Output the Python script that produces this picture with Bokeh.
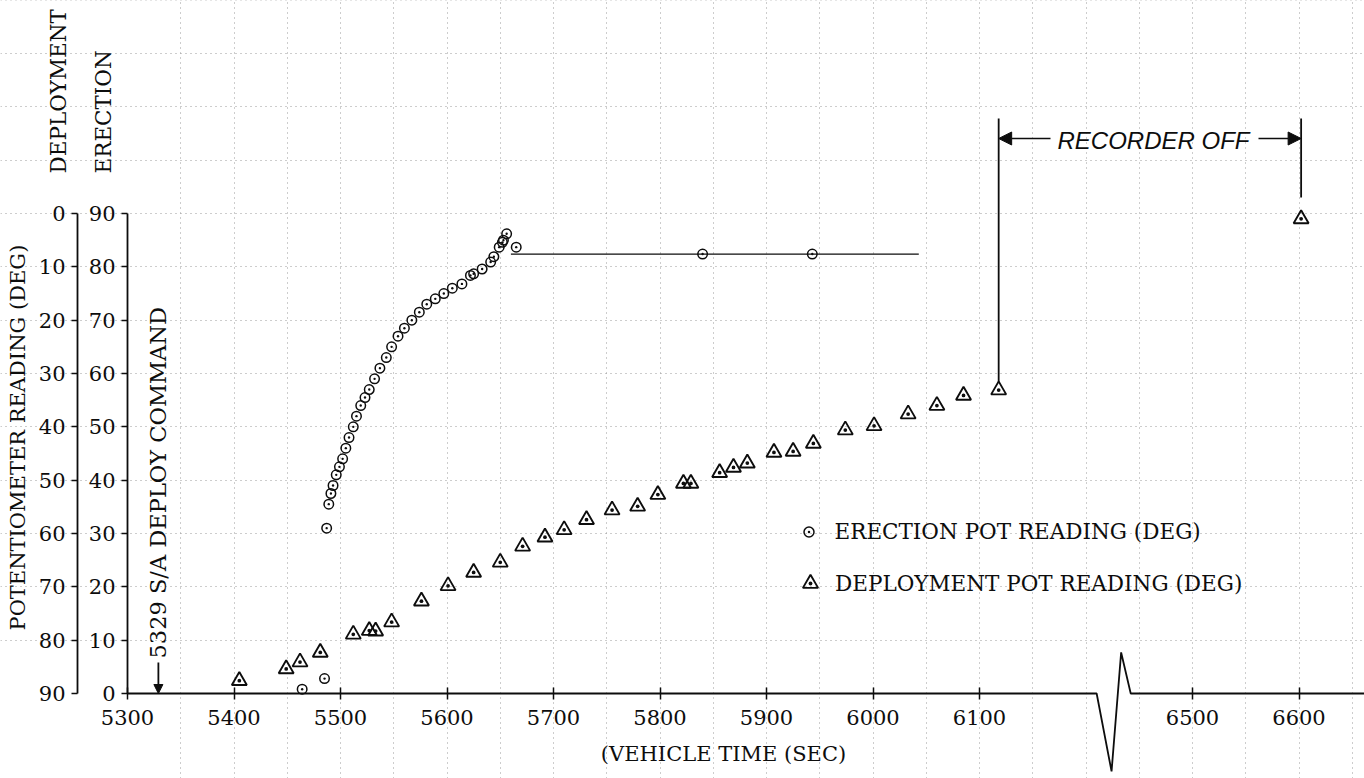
import math
from bokeh.plotting import figure
from bokeh.models import (Range1d, LinearAxis, FixedTicker, Label, Arrow, NormalHead,
                          Grid, Legend, LegendItem)
from bokeh.embed import file_html
from bokeh.resources import INLINE

# ---------------- data ----------------
erection_time = [5464, 5485, 5487, 5489, 5491, 5493, 5496, 5499, 5502, 5505, 5508, 5512,
                 5515, 5519, 5523, 5527, 5532, 5537, 5543, 5548, 5554, 5560, 5567, 5574,
                 5581, 5589, 5597, 5605, 5614, 5622, 5625, 5633, 5641, 5644, 5649, 5652,
                 5653, 5656, 5665, 5840, 5943]
erection_deg = [0.8, 2.8, 31.0, 35.5, 37.5, 39.0, 41.0, 42.5, 44.0, 46.0, 48.0, 50.0,
                52.0, 54.0, 55.5, 57.0, 59.0, 61.0, 63.0, 65.0, 67.0, 68.5, 70.0, 71.5,
                73.0, 74.0, 75.0, 76.0, 76.8, 78.4, 78.7, 79.6, 80.9, 81.9, 83.7, 84.6,
                85.0, 86.2, 83.7, 82.4, 82.4]

deploy_time = [5405, 5449, 5462, 5481, 5512, 5527, 5533, 5548, 5576, 5601, 5625, 5650,
               5671, 5692, 5710, 5731, 5755, 5779, 5798, 5822, 5829, 5856, 5869, 5882,
               5907, 5925, 5944, 5974, 6001, 6033, 6060, 6085, 6118, 6602]
deploy_deg = [87.6, 85.4, 84.1, 82.3, 78.9, 78.2, 78.3, 76.6, 72.7, 69.8, 67.3, 65.4,
              62.4, 60.7, 59.3, 57.4, 55.6, 54.9, 52.7, 50.6, 50.6, 48.6, 47.6, 46.8,
              44.8, 44.6, 43.1, 40.6, 39.8, 37.6, 36.0, 34.1, 33.1, 1.0]

erection_hold_deg = 82.4            # level of the held erection reading
erection_hold_span = [5660, 6043]   # extent of the drawn hold line

x_tick_values = [5300, 5400, 5500, 5600, 5700, 5800, 5900, 6000, 6100, 6500, 6600]
x_tick_labels = ["5300", "5400", "5500", "5600", "5700", "5800", "5900", "6000",
                 "6100", "6500", "6600"]
erection_ticks = [0, 10, 20, 30, 40, 50, 60, 70, 80, 90]
deploy_ticks = [0, 10, 20, 30, 40, 50, 60, 70, 80, 90]
command_time = 5329

# ---------------- layout helpers ----------------
W, H = 1364, 778
X0, SX = 127.0, 1.065     # pixel of 5300 s, pixels per second
Y0, SY = 693.0, 5.333     # pixel of 0 deg (erection), pixels per degree
BREAK_START, BREAK_GAP = 6200, 200   # axis break: later times drawn 200 s to the left


def tx(t):
    return t if t < BREAK_START else t - BREAK_GAP


def xd(px):
    return 5300 + (px - X0) / SX


def yd(py):
    return (Y0 - py) / SY


FONT = "DejaVu Serif"
INK = "#0d0d0d"
GRID = "#9a9a9a"

p = figure(width=W, height=H, output_backend="svg", toolbar_location=None,
           x_range=Range1d(xd(0), xd(W)), y_range=Range1d(yd(H), yd(0)),
           x_axis_type=None, y_axis_type=None, min_border=0,
           outline_line_color=None, background_fill_color="white",
           border_fill_color="white")
p.extra_y_ranges = {"deploy": Range1d(90 - yd(H), 90 - yd(0))}

# graph-paper grid
p.add_layout(Grid(dimension=0, ticker=FixedTicker(ticks=list(range(5350, 6451, 50))),
                  grid_line_color=GRID, grid_line_dash="1 4", grid_line_width=1,
                  bounds=(yd(H), yd(0))), "center")
p.add_layout(Grid(dimension=1, ticker=FixedTicker(ticks=list(range(10, 131, 10))),
                  grid_line_color=GRID, grid_line_dash="1 4", grid_line_width=1,
                  bounds=(5300, xd(W))), "center")

# axes
ax_e = LinearAxis(fixed_location=5300, ticker=FixedTicker(ticks=erection_ticks),
                  bounds=(0, 90))
ax_d = LinearAxis(fixed_location=xd(77), y_range_name="deploy",
                  ticker=FixedTicker(ticks=deploy_ticks), bounds=(0, 90))
for ax in (ax_e, ax_d):
    ax.major_tick_out = 6
    ax.major_tick_in = 0
    ax.minor_tick_out = 0
    ax.minor_tick_in = 0
    ax.major_label_standoff = 6
    ax.axis_line_width = 1.8
    ax.axis_line_color = INK
    ax.major_tick_line_color = INK
    ax.major_tick_line_width = 1.5
    ax.major_label_text_font = FONT
    ax.major_label_text_font_size = "21px"
    ax.major_label_text_color = INK
    p.add_layout(ax, "left")

ax_x = LinearAxis(fixed_location=0,
                  ticker=FixedTicker(ticks=[tx(v) for v in x_tick_values]),
                  major_label_overrides={tx(v): s for v, s in zip(x_tick_values, x_tick_labels)})
ax_x.axis_line_color = None
ax_x.major_tick_in = 6
ax_x.major_tick_out = 6
ax_x.minor_tick_out = 0
ax_x.minor_tick_in = 0
ax_x.major_tick_line_color = INK
ax_x.major_tick_line_width = 1.5
ax_x.major_label_standoff = 10
ax_x.major_label_text_font = FONT
ax_x.major_label_text_font_size = "21px"
ax_x.major_label_text_color = INK
p.add_layout(ax_x, "below")

# x-axis line with the break symbol
brk_x = [6210, 6224, 6233, 6242]
brk_y = [0, -14.6, 7.7, 0]
p.line([5300] + brk_x + [xd(W)], [0] + brk_y + [0], line_color=INK, line_width=1.8)

# held erection reading line
p.line(erection_hold_span, [erection_hold_deg, erection_hold_deg],
       line_color=INK, line_width=1.3)

# data
r_e = p.scatter([tx(t) for t in erection_time], erection_deg, marker="circle_dot",
                size=9.5, line_color=INK, line_width=1.5, fill_color=None)
r_d = p.scatter([tx(t) for t in deploy_time], deploy_deg, y_range_name="deploy",
                marker="triangle_dot", size=15, line_color=INK, line_width=1.9,
                fill_color=None)

# recorder-off markers
t_off, t_on = tx(deploy_time[-2]), tx(deploy_time[-1])
e_off = 90 - deploy_deg[-2]
e_on = 90 - deploy_deg[-1]
top_e = yd(118)
p.line([t_off, t_off], [e_off + 1.6, top_e], line_color=INK, line_width=1.8)
p.line([t_on, t_on], [e_on + 4, top_e], line_color=INK, line_width=1.8)
arrow_e = yd(138)
p.add_layout(Arrow(end=NormalHead(size=13, fill_color=INK, line_color=INK),
                   x_start=xd(1050), y_start=arrow_e, x_end=t_off, y_end=arrow_e,
                   line_color=INK, line_width=1.5))
p.add_layout(Arrow(end=NormalHead(size=13, fill_color=INK, line_color=INK),
                   x_start=xd(1258), y_start=arrow_e, x_end=t_on, y_end=arrow_e,
                   line_color=INK, line_width=1.5))
p.add_layout(Label(x=xd(1153), y=yd(140), text="RECORDER OFF", text_align="center",
                   text_baseline="middle", text_font="Liberation Sans",
                   text_font_style="italic", text_font_size="24px", text_color=INK))

# deploy command marker
p.add_layout(Arrow(end=NormalHead(size=9, fill_color=INK, line_color=INK),
                   x_start=command_time, y_start=yd(662), x_end=command_time, y_end=0,
                   line_color=INK, line_width=1.8))
p.add_layout(Label(x=command_time, y=yd(658), text="5329 S/A DEPLOY COMMAND",
                   angle=math.pi / 2, text_align="left", text_baseline="middle",
                   text_font=FONT, text_font_size="22.5px", text_color=INK))

# axis titles
p.add_layout(Label(x=xd(17), y=yd(630), text="POTENTIOMETER READING (DEG)",
                   angle=math.pi / 2, text_align="left", text_baseline="middle",
                   text_font=FONT, text_font_size="21px", text_color=INK))
p.add_layout(Label(x=xd(58), y=yd(173), text="DEPLOYMENT",
                   angle=math.pi / 2, text_align="left", text_baseline="middle",
                   text_font=FONT, text_font_size="21.5px", text_color=INK))
p.add_layout(Label(x=xd(103), y=yd(173), text="ERECTION",
                   angle=math.pi / 2, text_align="left", text_baseline="middle",
                   text_font=FONT, text_font_size="21.5px", text_color=INK))
p.add_layout(Label(x=xd(723), y=yd(753), text="(VEHICLE TIME (SEC)",
                   text_align="center", text_baseline="middle",
                   text_font=FONT, text_font_size="21px", text_color=INK))

# legend (one box per entry so each symbol keeps its own size)
leg_style = dict(padding=0, margin=0, label_text_font=FONT, label_text_font_size="21.5px",
                 label_text_color=INK, border_line_color=None, background_fill_alpha=0)
leg_e = Legend(items=[LegendItem(label="ERECTION POT READING (DEG)", renderers=[r_e])],
               location=(808 - 12.5, H - 531 - 12.5), glyph_width=25, glyph_height=25,
               label_height=25, label_standoff=14, **leg_style)
leg_d = Legend(items=[LegendItem(label="DEPLOYMENT POT READING (DEG)", renderers=[r_d])],
               location=(810 - 19, H - 583 - 19), glyph_width=38, glyph_height=38,
               label_height=38, label_standoff=6, **leg_style)
p.add_layout(leg_e, "center")
p.add_layout(leg_d, "center")

open("out.html", "w").write(file_html(p, INLINE))
